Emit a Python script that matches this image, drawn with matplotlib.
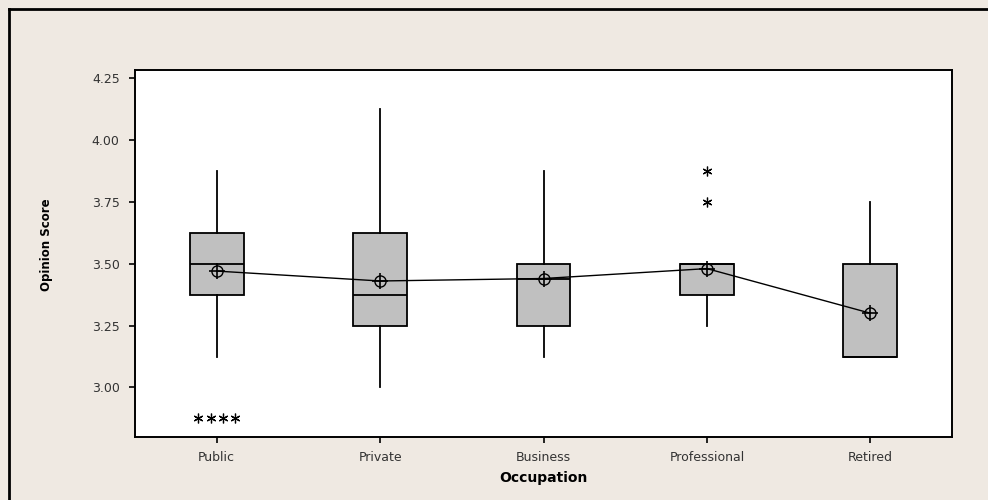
import numpy as np
import matplotlib
matplotlib.use("Agg")
import matplotlib.pyplot as plt
from matplotlib.lines import Line2D

# boxplot summary
occupations = ["Public", "Private", "Business", "Professional", "Retired"]
q1 = [3.375, 3.25, 3.25, 3.375, 3.125]
medians = [3.50, 3.375, 3.4375, 3.50, 3.125]
q3 = [3.625, 3.625, 3.50, 3.50, 3.50]
whisker_lo = [3.125, 3.00, 3.125, 3.25, 3.125]
whisker_hi = [3.875, 4.125, 3.875, 3.50, 3.75]
means = [3.47, 3.43, 3.44, 3.48, 3.30]
outliers = [[2.875, 2.875, 2.875, 2.875], [], [], [3.75, 3.875], []]

bg = "#efe9e2"
fig = plt.figure(figsize=(9.88, 5.0), dpi=100, facecolor=bg)
ax = fig.add_axes([135 / 988, 1 - 437 / 500, 817 / 988, 367 / 500])
ax.set_facecolor("white")

stats = []
for i in range(len(occupations)):
    stats.append({
        "q1": q1[i], "med": medians[i], "q3": q3[i],
        "whislo": whisker_lo[i], "whishi": whisker_hi[i],
        "fliers": [], "label": occupations[i],
    })

pos = np.arange(1, len(occupations) + 1)
ax.bxp(stats, positions=pos, widths=0.33, patch_artist=True, showcaps=False,
       showfliers=False,
       boxprops=dict(facecolor="#c0c0c0", edgecolor="black", linewidth=1.3),
       medianprops=dict(color="black", linewidth=1.3),
       whiskerprops=dict(color="black", linewidth=1.3))

# outliers, tied values drawn side by side like Minitab does
star = (6, 2, 0)
for i, vals in enumerate(outliers):
    vals = np.array(vals)
    for v in np.unique(vals):
        n = int((vals == v).sum())
        offs = (np.arange(n) - (n - 1) / 2) * 0.075
        ax.plot(pos[i] + offs, [v] * n, linestyle="none", marker=star,
                markersize=7, color="black", markeredgewidth=0.9, zorder=4)

# mean connect line with circle-cross symbols
ax.plot(pos, means, color="black", linewidth=1.0, zorder=4)
ax.plot(pos, means, linestyle="none", marker="o", markersize=8,
        markerfacecolor="none", markeredgecolor="black", markeredgewidth=1.0, zorder=5)
ax.plot(pos, means, linestyle="none", marker="+", markersize=11,
        color="black", markeredgewidth=1.2, zorder=5)

ax.set_xlim(0.5, 5.5)
ax.set_ylim(2.80, 4.282)
ax.set_yticks([3.00, 3.25, 3.50, 3.75, 4.00, 4.25])
ax.set_yticklabels(["3.00", "3.25", "3.50", "3.75", "4.00", "4.25"])
ax.set_xticks(pos)
ax.set_xticklabels(occupations)
ax.tick_params(axis="both", direction="out", length=4, width=1.2,
               labelsize=9, colors="black", labelcolor="#333333")
ax.tick_params(axis="x", pad=6)
ax.tick_params(axis="y", pad=7)
for s in ax.spines.values():
    s.set_linewidth(1.4)

ax.set_xlabel("Occupation", fontsize=10, fontweight="bold")
ax.xaxis.set_label_coords(0.5, -0.092)
ax.set_ylabel("Opinion Score", fontsize=8.5, fontweight="bold")
ax.yaxis.set_label_coords(-0.1, 0.525)

# outer window frame (top and left edges)
fig.add_artist(Line2D([9 / 988, 1.0], [1 - 9 / 500, 1 - 9 / 500],
                      transform=fig.transFigure, color="black", linewidth=2))
fig.add_artist(Line2D([9 / 988, 9 / 988], [0, 1 - 9 / 500],
                      transform=fig.transFigure, color="black", linewidth=2))

fig.savefig("out.png", dpi=100, facecolor=bg)
